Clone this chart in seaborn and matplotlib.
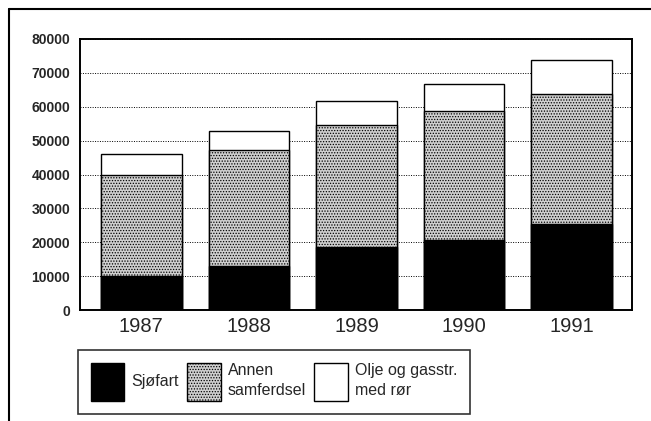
import numpy as np
import pandas as pd
import matplotlib
matplotlib.use("Agg")
import matplotlib.pyplot as plt
import seaborn as sns
from matplotlib.patches import Patch
from matplotlib.lines import Line2D

years = ["1987", "1988", "1989", "1990", "1991"]
sjofart = [10000, 13000, 18500, 20700, 25400]
annen = [30000, 34100, 36000, 38000, 38500]
olje = [6000, 5800, 7200, 8000, 10000]

labels = ["Sjøfart", "Annen\nsamferdsel", "Olje og gasstr.\nmed rør"]

sns.set_theme(style="white")
plt.rcParams["font.family"] = ["Liberation Sans", "DejaVu Sans"]
plt.rcParams["hatch.color"] = "#444444"
plt.rcParams["hatch.linewidth"] = 0.6

df = pd.DataFrame({"year": years, "sjofart": sjofart, "annen": annen, "olje": olje})
df["cum_annen"] = df["sjofart"] + df["annen"]
df["total"] = df["cum_annen"] + df["olje"]

fig = plt.figure(figsize=(6.51, 4.21), dpi=100)
ax = fig.add_axes([80 / 651, 1 - 310 / 421, 552 / 651, 271 / 421])

# stacked bars: draw totals first, then overlay the lower parts
sns.barplot(data=df, x="year", y="total", color="white", edgecolor="black",
            linewidth=1.0, width=0.75, ax=ax, zorder=3)
sns.barplot(data=df, x="year", y="cum_annen", color="#cfcfcf", edgecolor="black",
            linewidth=1.0, width=0.75, ax=ax, zorder=3, hatch="......")
sns.barplot(data=df, x="year", y="sjofart", color="black", edgecolor="black",
            linewidth=1.0, width=0.75, ax=ax, zorder=3)

ax.set_ylim(0, 80000)
ax.set_xlim(-0.57, 4.56)
ax.set_yticks(range(0, 80001, 10000))
ax.set_yticklabels([str(v) for v in range(0, 80001, 10000)], fontsize=10, fontweight="bold")
ax.tick_params(axis="x", labelsize=14.5, length=0, pad=5)
ax.tick_params(axis="y", length=0, pad=7)
ax.set_xlabel("")
ax.set_ylabel("")
ax.yaxis.grid(True, linestyle=(0, (1, 1.5)), color="black", linewidth=0.7, zorder=0)
ax.set_axisbelow(True)
for s in ax.spines.values():
    s.set_linewidth(1.4)
    s.set_color("black")

handles = [
    Patch(facecolor="black", edgecolor="black"),
    Patch(facecolor="#cfcfcf", edgecolor="black", hatch="......"),
    Patch(facecolor="white", edgecolor="black"),
]
leg = fig.legend(handles, labels, ncol=3, loc="upper left",
                 bbox_to_anchor=(78 / 651, 1 - 350 / 421),
                 fontsize=11.5, handlelength=2.1, handleheight=3.3,
                 handletextpad=0.45, columnspacing=0.5, borderpad=0.8,
                 borderaxespad=0, labelspacing=0.2,
                 frameon=True, fancybox=False, edgecolor="black")
leg.get_frame().set_linewidth(1.2)
for t in leg.get_texts():
    t.set_linespacing(1.45)

# outer frame lines (top and left)
fig.add_artist(Line2D([9 / 651, 1.0], [1 - 9 / 421, 1 - 9 / 421], color="black", linewidth=1.5))
fig.add_artist(Line2D([9 / 651, 9 / 651], [0, 1 - 9 / 421], color="black", linewidth=1.5))

fig.savefig("out.png", dpi=100)
